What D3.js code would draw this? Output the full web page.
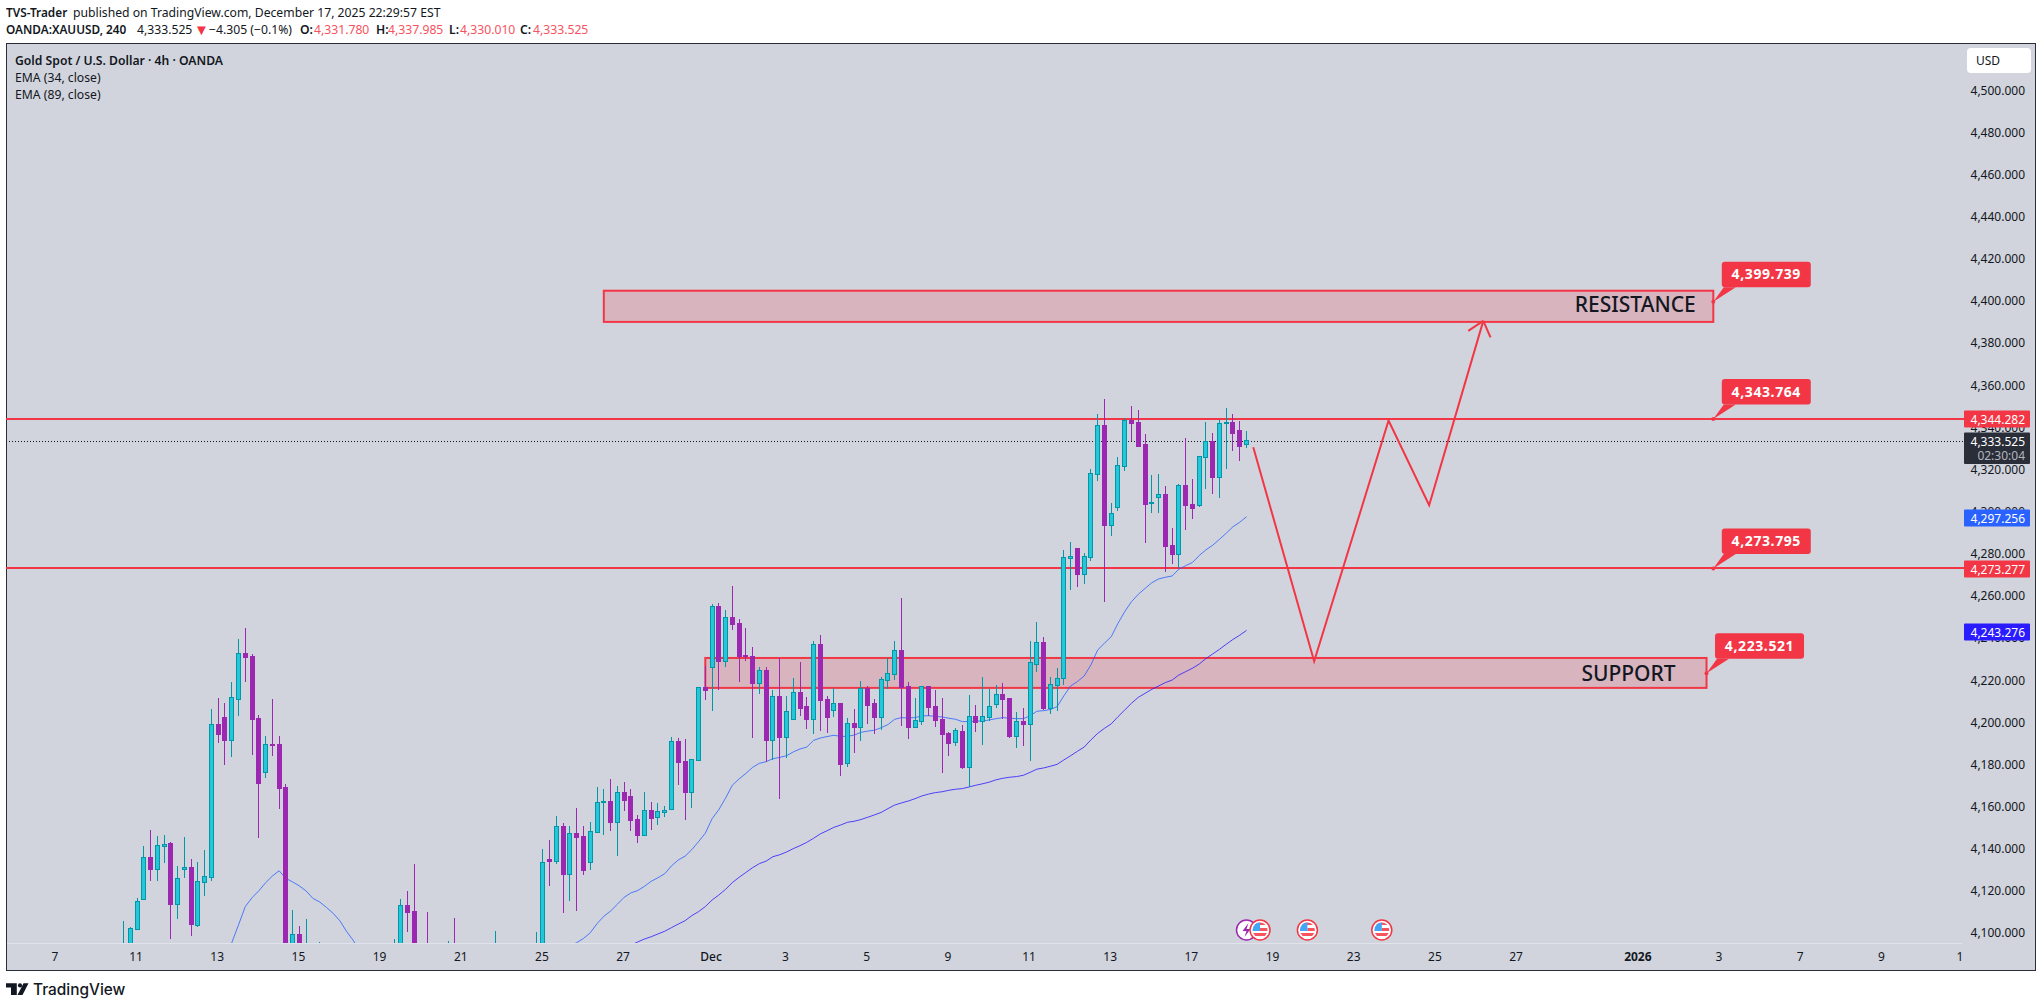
<!DOCTYPE html>
<html><head><meta charset="utf-8">
<script src="https://cdnjs.cloudflare.com/ajax/libs/d3/7.8.5/d3.min.js"></script>
<style>html,body{margin:0;padding:0;background:#fff;overflow:hidden}svg{display:block}text{font-family:"Noto Sans",sans-serif}</style>
</head><body><svg id="c" width="2042" height="1008"></svg>
<script>
const gap = n => Array(n).fill(null);
const opens = [
4085,4090,4101.7,4115.9,4135.6,4130.2,4141.1,4142.2,4113.6,4130.2,
4130.8,4103.6,4124,4126.4,4198.9,4202.2,4191.4,4210.9,4232.5,4231.1,
4201.7,4176.2,4189.4,4189.4,4169,4085,4099.2,4085,null,4084,
...gap(10),
4085,4085,4113,4110.1,null,4090,null,null,4085,4090,
...gap(5),4085,...gap(4),
null,4085,4085,4134.8,4134,4150.5,4127.8,4147,4145.7,4133.5,
4147.8,4161.8,4162.2,4152.5,4166.4,4164.5,4153.6,4146.3,4157.9,4154.6,
4157.3,4158.7,4190.6,4181.3,4166.8,4182,4216.3,4225.8,4254.7,4228.9,
4249.5,4246.6,4231.5,4231.1,4218.5,4224.5,4191.3,4212.2,4192.9,4201.4,
4213.9,4207.4,4201.4,4236.8,4210.6,4205.7,4208.7,4180.5,4199.2,4197.6,
4215.9,4208.7,4202.3,4219.9,4222.8,4234,4216.9,4197.6,4200.4,4216.7,
4207.4,4201.2,4194.6,4190.5,4195.5,4178.6,4202.5,4200.3,4202.3,4208.5,
4212.9,4211.2,4193.3,4200.3,4199,4227.5,4237.8,4206.5,4217.5,4220.5,
4277.8,4282.4,4270.2,4278.3,4317.7,4340.8,4293.5,4302,4321.5,4343.2,
4342.2,4331.8,4303.8,4306.8,4308,4283.8,4279.7,4312.3,4303.3,4302.8,
4325.8,4333.2,4316.3,4341.9,4342.1,4338.4,4331.78];
const highs = [
4105.4,4102.5,4116.1,4140.9,4148.5,4145.5,4146.2,4142.7,4131.5,4145.2,
4134.6,4133.4,4139,4206,4211.2,4208.8,4218.8,4239.2,4244.4,4232,
4203,4193.2,4210.7,4193.2,4170.2,4110.6,4103,4106.3,null,4095.4,
...gap(10),
4096.8,4115.8,4119.6,4132.4,null,4109.6,null,null,4095.9,4106.8,
...gap(5),4100.6,...gap(4),
null,4100.1,4139.5,4143.8,4155.2,4151.7,4150.5,4159,4150.5,4152.4,
4168.8,4168,4172.8,4169.3,4171.3,4168,4155.5,4166.4,4161.7,4161.4,
4160,4192.7,4192.2,4191.7,4182.1,4216.3,4226.4,4255.8,4256.3,4253,
4264.4,4248.5,4244.4,4235.3,4225.8,4225.8,4215,4230.2,4212.2,4220.7,
4228.3,4211.7,4238.3,4241.1,4212.2,4215.9,4208.7,4201.6,4206,4219.1,
4216.7,4210.6,4221.2,4230,4238.3,4258.7,4218.6,4211.2,4216.9,4216.9,
4215,4211.2,4194.9,4197,4198.4,4212.6,4207.9,4221.2,4215.5,4217.2,
4218.3,4211.2,4204.4,4206.5,4238.3,4247.3,4240.2,4221.2,4225.4,4281.5,
4285.1,4282.4,4279.9,4319.7,4346,4353.1,4303.8,4325.6,4344,4349.8,
4347.9,4336.5,4317.1,4317.5,4311.8,4291.9,4312.8,4334.6,4315.2,4326,
4342.2,4337,4343.3,4348.9,4346,4342.7,4337.985];
const lows = [
4080,4085,4101.1,4115.3,4124.3,4124.3,4133,4096.8,4106.3,4125.8,
4098.4,4102.7,4117.2,4124.3,4189.8,4179.4,4183.2,4202.6,4218.8,4184.1,
4144.7,4173.2,4183.7,4158.5,4080,4080,4080,4078,null,4080,
...gap(10),
4080,4080,4100.1,4080,null,4080,null,null,4080,4080,
...gap(5),4080,...gap(4),
null,4080,4080,4122,4132.4,4109.3,4114.9,4110.1,4127.2,4129.6,
4147.1,4146.2,4148.1,4136.2,4157.6,4148.1,4142.4,4146.3,4148.6,4150.9,
4154.7,4158.7,4169.9,4153.3,4159,4182,4210.3,4205,4215,4225.9,
4243.5,4218.8,4228.8,4192.2,4213.1,4180.8,4181.8,4163.3,4182.7,4201.4,
4202.7,4196.5,4194.1,4195.5,4194.6,4202.2,4174.2,4178.5,4185.1,4190.8,
4198.9,4194.1,4196,4215.5,4219.7,4197.9,4191.7,4197,4198.4,4202.7,
4197.4,4175.6,4183.7,4188.4,4177.5,4169,4195.1,4188.9,4200.3,4206.5,
4201.2,4192.2,4187.5,4188.4,4181.3,4223.5,4205.5,4203.6,4205,4217.4,
4262.5,4263.9,4265.3,4276.3,4314.2,4256.8,4288.1,4300,4319,4333.2,
4330.3,4284.8,4299,4299,4271,4274.8,4272.9,4291,4296.2,4301.9,
4310.4,4308,4306.1,4319.9,4328.4,4323.7,4330.01];
const closes = [
4090,4101.9,4114.7,4135.6,4130.2,4141.3,4141.7,4113.4,4125.6,4130.8,
4103.9,4124.2,4126.6,4198.7,4194.1,4191.3,4211.5,4232.4,4230.6,4201.2,
4170.9,4189.2,4189,4168.5,4085,4099,4085,4090,null,4090,
...gap(10),
4090,4112.8,4109.6,4085,null,4085,null,null,4090,4085,
...gap(5),4090,...gap(4),
null,4090,4133.2,4133.8,4150.3,4127.7,4147,4145.2,4129.6,4147.9,
4161.7,4162.5,4152.5,4166.4,4162.8,4153.3,4146.2,4157.9,4154.3,4157.4,
4157.9,4190.6,4181,4166.8,4182.1,4216.3,4215.2,4254.7,4228.9,4249.5,
4246.3,4231.1,4231.1,4218.3,4224.3,4191.3,4212,4192.7,4204.9,4213.9,
4206.6,4201.2,4236.7,4210.3,4202.2,4208.7,4179.9,4199.2,4197.4,4215.9,
4207.9,4202.2,4220.1,4222.9,4233.8,4216.4,4197.4,4200.6,4216.7,4206.9,
4200.8,4194.1,4189.8,4195.9,4178.5,4202.5,4200,4202.5,4207.2,4212.9,
4210.7,4193.2,4200.1,4198.9,4228.1,4237.6,4206.5,4217.7,4220.5,4278,
4278.5,4270.1,4278.5,4317.9,4340.6,4293.5,4298.9,4321.6,4343,4341.7,
4330.8,4303.3,4304.1,4307.9,4283.4,4279.6,4312.2,4302.8,4301.4,4325.9,
4333,4316.1,4341.6,4342.2,4337,4330.8,4333.525];
const ema34 = [...gap(15),
4086,4095,4103.5,4112.2,4116.4,
4119.7,4123.5,4126.7,4129.2,4125.6,4123.9,4122,4119.6,4116.1,4114.4,
4111.8,4109,4105.4,4100.3,4096,4090,...gap(30),
4093.6,4095.1,4097.1,4099.8,
4104.1,4107.6,4110.1,4113.3,4116.6,4118.7,4119.8,4121.8,4124.2,4125.9,
4127.8,4131.5,4134.3,4136.1,4139.2,4143,4147,4153.9,4158.2,4163.7,
4169.8,4172.8,4175.4,4178.3,4180.2,4181,4182.4,4183,4183.8,4185.6,
4187,4187.9,4191.1,4192.2,4192.9,4193.5,4193,4193,4193.6,4194.9,
4195.5,4195.9,4197.1,4198.6,4201.1,4201.9,4201.7,4201.9,4202.7,4202.8,
4202.5,4202.2,4201.6,4201.1,4200,4200,4200.3,4200.3,4200.8,4201.4,
4201.9,4201.6,4201.4,4201.4,4202.7,4204.9,4205.2,4205.7,4207.1,4212.2,
4216.9,4219,4221.6,4226.9,4234,4237.2,4240.3,4246.6,4252.2,4256.9,
4260.4,4263.2,4265.9,4267.7,4268.5,4269.1,4272.3,4274,4275.5,4278.8,
4281.5,4283.7,4286.5,4289.4,4292.5,4294.6,4297.256];
const ema89 = [...gap(75),
4093.9,4095.4,4096.8,4097.9,4099.2,
4100.5,4102.2,4103.9,4105.5,4107.9,4109.8,4112.2,4115.3,4117.7,4120.4,
4123.6,4126.1,4128.4,4130.7,4132.6,4133.8,4135.9,4136.8,4138.1,4139.7,
4141.1,4142.7,4144.6,4146.7,4148.2,4149.8,4150.9,4152.2,4152.7,4153.5,
4154.6,4155.7,4156.9,4158.7,4160.4,4161.4,4162.3,4163.4,4164.7,4165.6,
4166.3,4166.7,4167.4,4167.9,4168.2,4169,4169.8,4170.5,4171.3,4172.4,
4173.1,4173.6,4173.9,4174.5,4175.9,4177.4,4178,4178.8,4179.7,4181.8,
4183.8,4185.9,4187.9,4191.3,4194.4,4196.8,4198.9,4202.3,4205.5,4208.7,
4211.5,4213.4,4215.3,4216.9,4218.5,4219.7,4222.1,4223.7,4225.3,4227.3,
4229.9,4232.1,4234.3,4236.7,4239,4241,4243.276];
const priceTicks = d3.range(4100, 4501, 20);
const timeLabels = ["7","11","13","15","19","21","25","27","Dec","3","5","9","11","13","17","19","23","25","27","2026","3","7","9","1"];
const timeBars = [-10,2,14,26,38,50,62,74,87,98,110,122,134,146,158,170,182,194,206,224,236,248,260,271.6];
const hLinePrices = [4343.764, 4273.277];
const calloutLabels = ["4,399.739","4,343.764","4,273.795","4,223.521"];
const calloutBars = [235,235,235,234];
const calloutPrices = [4399.3,4343.6,4272.7,4222.9];
const zoneNames = ["RESISTANCE","SUPPORT"];
const zoneStart = [71,86];
const zoneEnd = [235,234];
const zoneTop = [4404.5,4230.2];
const zoneBottom = [4389.7,4216];
const pathBars = [167,176,187,193,201];
const pathPrices = [4330.2,4228.6,4342.9,4302.7,4390.2];
const eventBars = [168,175,186];
const lightningBar = 166;
const tagValues = [4344.282,4297.256,4273.277,4243.276];
const tagColors = ["#f23645","#2962ff","#f23645","#2a1cff"];
const lastPrice = 4333.525;
const countdown = "02:30:04";

const RED="#f23645", BG="#d1d4dc", INK="#131722";
const svg=d3.select("#c");
const x=d3.scaleLinear().domain([0,166]).range([123.5,1246.5]);
const y=d3.scaleLinear().domain([4100,4500]).range([932.3,89.5]);
const defs=svg.append("defs");
defs.append("clipPath").attr("id","plot").append("rect").attr("x",6).attr("y",44).attr("width",1958).attr("height",899);

// header
const hdr=(t,px,py,w,fill,fs)=>svg.append("text").attr("x",px).attr("y",py).attr("font-size",fs||12.2).attr("font-weight",w||400).attr("fill",fill||INK).text(t);
hdr("TVS-Trader",6,17,600,INK,11.8);
hdr("published on TradingView.com, December 17, 2025 22:29:57 EST",73,17);
hdr("OANDA:XAUUSD, 240",6,34,600,INK,11.8);
hdr("4,333.525",137,34);
hdr("▼",194,35,400,"#f23645",15);
hdr("−4.305 (−0.1%)",209,34);
[["O:","4,331.780",300,314],["H:","4,337.985",376,388],["L:","4,330.010",449,460],["C:","4,333.525",520,533]].forEach(a=>{
  hdr(a[0],a[2],34,600);hdr(a[1],a[3],34,400,"#f7525f");
});

// pane
svg.append("rect").attr("x",6.5).attr("y",43.5).attr("width",2029).attr("height",927).attr("fill",BG).attr("stroke","#2a2e39").attr("stroke-width",1);
svg.append("line").attr("x1",7).attr("x2",1962).attr("y1",943.5).attr("y2",943.5).attr("stroke","#e0e3eb");

// legend
[["Gold Spot / U.S. Dollar · 4h · OANDA",66,600],["EMA (34, close)",83,400],["EMA (89, close)",100,400]].forEach(a=>{
  svg.append("text").attr("x",15).attr("y",a[1]-1).attr("font-size",12.2).attr("font-weight",a[2]).attr("fill",INK).text(a[0]);
});

// axes
const yAxis=d3.axisRight(y).tickValues(priceTicks).tickSize(0).tickFormat(d=>d3.format(",.3f")(d));
const ya=svg.append("g").attr("transform","translate(2025,0.8)").call(yAxis);
ya.select(".domain").remove();
ya.selectAll("text").attr("x",0).attr("text-anchor","end").attr("font-size",12).attr("fill",INK).style("font-family",'"Noto Sans",sans-serif');
const xa=svg.append("g");
timeLabels.forEach((t,i)=>{
  xa.append("text").attr("x",x(timeBars[i])-1).attr("y",961).attr("text-anchor","middle").attr("font-size",12)
    .attr("font-weight",t==="2026"?700:(t==="Dec"?500:400)).attr("fill",INK).text(t);
});

const plot=svg.append("g").attr("clip-path","url(#plot)");
// zones
zoneNames.forEach((n,i)=>{
  const x0=x(zoneStart[i]),x1=x(zoneEnd[i]),y0=y(zoneTop[i]),y1=y(zoneBottom[i]);
  plot.append("rect").attr("x",x0).attr("y",y0).attr("width",x1-x0).attr("height",y1-y0)
    .attr("fill","rgba(242,54,69,0.2)").attr("stroke",RED).attr("stroke-width",2);
});
// horizontal lines
hLinePrices.forEach(p=>{
  const py=Math.ceil(y(p));
  plot.append("line").attr("x1",6).attr("x2",1964).attr("y1",py).attr("y2",py).attr("stroke",RED).attr("stroke-width",2);
});
// last price dotted
const ly=Math.ceil(y(lastPrice))+0.5;
plot.append("line").attr("x1",6).attr("x2",1964).attr("y1",ly).attr("y2",ly).attr("stroke",INK).attr("stroke-width",1).attr("stroke-dasharray","1 2");

// EMAs
const lineGen=d3.line().defined(d=>d!=null).x((d,i)=>x(i)).y(d=>y(d));
plot.append("path").attr("d",lineGen(ema34)).attr("fill","none").attr("stroke","#2962ff").attr("stroke-opacity",.8).attr("stroke-width",1);
plot.append("path").attr("d",lineGen(ema89)).attr("fill","none").attr("stroke","#2a1cff").attr("stroke-opacity",.8).attr("stroke-width",1);

// candles
const bars=opens.map((o,i)=>({i,o,h:highs[i],l:lows[i],c:closes[i]})).filter(d=>d.o!=null);
const cg=plot.append("g");
bars.forEach(d=>{
  const up=d.c>=d.o, col=Math.floor(x(d.i));
  const wick=up?"#0097a7":"#9c27b0";
  const fill=up?"#26c6da":"#9c27b0";
  cg.append("rect").attr("x",col).attr("width",1).attr("y",Math.round(y(d.h))).attr("height",Math.max(1,Math.round(y(d.l))-Math.round(y(d.h)))).attr("fill",wick);
  const t=Math.round(y(Math.max(d.o,d.c))),b=Math.round(y(Math.min(d.o,d.c)));
  cg.append("rect").attr("x",col-2+.5).attr("width",4).attr("y",t+.5).attr("height",Math.max(1,b-t)).attr("fill",fill).attr("stroke",wick).attr("stroke-width",1);
});

// zone names
zoneNames.forEach((n,i)=>{
  const cy=(y(zoneTop[i])+y(zoneBottom[i]))/2+(n==="RESISTANCE"?5.5:8.5);
  plot.append("text").attr("x",x(zoneEnd[i])-78).attr("y",cy).attr("text-anchor","middle").attr("font-size",21).attr("font-weight",500).attr("fill",INK).text(n);
});

// projected path
const pts=pathBars.map((b,i)=>[x(b),y(pathPrices[i])]);
plot.append("path").attr("d",d3.line()(pts)).attr("fill","none").attr("stroke",RED).attr("stroke-width",2);
const e=pts[pts.length-1],s=pts[pts.length-2],ang=Math.atan2(e[1]-s[1],e[0]-s[0]);
[-.7,.7].forEach(da=>{
  plot.append("line").attr("x1",e[0]).attr("y1",e[1]).attr("x2",e[0]-18*Math.cos(ang+da)).attr("y2",e[1]-18*Math.sin(ang+da)).attr("stroke",RED).attr("stroke-width",2);
});

// callouts
calloutLabels.forEach((t,i)=>{
  const ax=x(calloutBars[i]),ay=y(calloutPrices[i]);
  const bx=ax+8.5,by=ay-40,bw=89,bh=25.5;
  svg.append("path").attr("d",`M${ax},${ay}L${bx+2},${by+bh}L${bx+14},${by+bh}Z`).attr("fill",RED);
  svg.append("circle").attr("cx",ax).attr("cy",ay).attr("r",2).attr("fill",RED);
  svg.append("rect").attr("x",bx).attr("y",by).attr("width",bw).attr("height",bh).attr("rx",3).attr("fill",RED);
  svg.append("text").attr("x",bx+bw/2).attr("y",by+17.5).attr("text-anchor","middle").attr("font-size",14).attr("font-weight",700).attr("letter-spacing",.6).attr("fill","#fff").text(t);
});

// events
const flagG=svg.append("g").attr("clip-path","url(#plot)");
const ex0=x(lightningBar);
flagG.append("circle").attr("cx",ex0).attr("cy",930).attr("r",10).attr("fill","#fff").attr("stroke","#9c27b0").attr("stroke-width",1.5);
flagG.append("path").attr("transform",`translate(${ex0},930)`).attr("d","M2,-7L-4,1H0L-2,7L4,-1H0Z").attr("fill","#9c27b0");
eventBars.forEach((b,i)=>{
  const cx=x(b),cy=930,id="fl"+i;
  defs.append("clipPath").attr("id",id).append("circle").attr("cx",cx).attr("cy",cy).attr("r",7.5);
  flagG.append("circle").attr("cx",cx).attr("cy",cy).attr("r",10).attr("fill","#fff").attr("stroke",RED).attr("stroke-width",1.5);
  const f=flagG.append("g").attr("clip-path",`url(#${id})`);
  f.append("rect").attr("x",cx-8).attr("y",cy-8).attr("width",16).attr("height",16).attr("fill","#fff");
  f.append("rect").attr("x",cx-8).attr("y",cy-8).attr("width",16).attr("height",3).attr("fill","#f7525f");
  f.append("rect").attr("x",cx).attr("y",cy-2).attr("width",8).attr("height",3).attr("fill","#f7525f");
  f.append("rect").attr("x",cx-8).attr("y",cy+3).attr("width",16).attr("height",3).attr("fill","#f7525f");
  f.append("rect").attr("x",cx-8).attr("y",cy-8).attr("width",8).attr("height",9).attr("fill","#42a5f5");
});

// price tags
tagValues.forEach((v,i)=>{
  const cy=Math.round(y(v)+1.5);
  svg.append("rect").attr("x",1964).attr("y",cy-8.5).attr("width",66).attr("height",17).attr("rx",1).attr("fill",tagColors[i]);
  svg.append("text").attr("x",2025).attr("y",cy+4.5).attr("text-anchor","end").attr("font-size",12).attr("fill","#fff").text(d3.format(",.3f")(v));
});
const dy=Math.ceil(y(lastPrice));
svg.append("rect").attr("x",1964).attr("y",dy-8.5).attr("width",66).attr("height",31.5).attr("rx",1).attr("fill","#2a2e39");
svg.append("text").attr("x",2025).attr("y",dy+4.5).attr("text-anchor","end").attr("font-size",12).attr("fill","#fff").text(d3.format(",.3f")(lastPrice));
svg.append("text").attr("x",2025).attr("y",dy+18.5).attr("text-anchor","end").attr("font-size",12).attr("fill","#b2b5be").text(countdown);

// USD button
svg.append("rect").attr("x",1967).attr("y",48).attr("width",64).attr("height",25).attr("rx",4).attr("fill","#fff");
svg.append("text").attr("x",1976).attr("y",65).attr("font-size",12).attr("fill",INK).text("USD");

// TradingView logo
const logo=svg.append("g").attr("fill",INK);
logo.append("path").attr("d","M6,983.3H16.8V995H11V987.4H6Z");
logo.append("circle").attr("cx",20).attr("cy",985.4).attr("r",2.1);
logo.append("path").attr("d","M23.5,983.3H28.5L22.5,995H17.5Z");
logo.append("text").attr("x",33).attr("y",995).attr("font-size",15.4).attr("font-weight",500).attr("fill",INK).style("font-family","Inter").text("TradingView");
</script></body></html>
